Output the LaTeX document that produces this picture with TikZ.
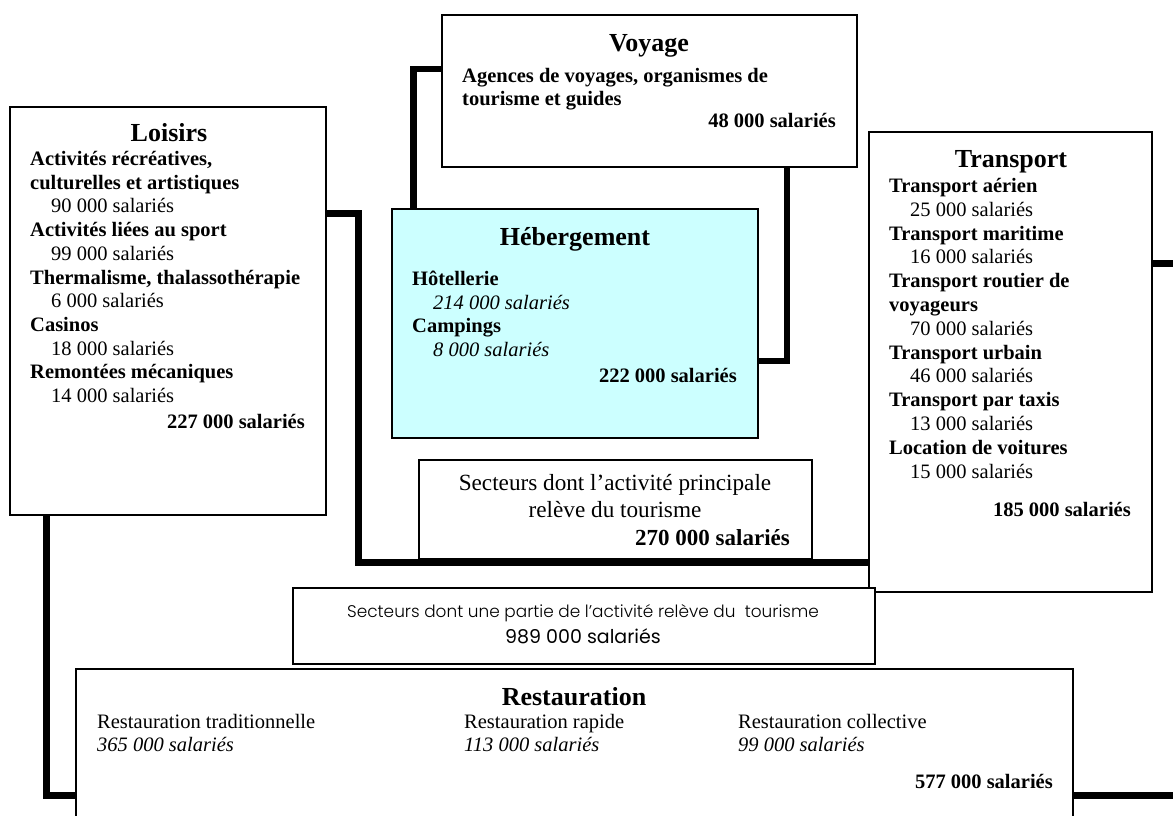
\documentclass[tikz,border=0pt]{standalone}
\usepackage{fontspec}
\setmainfont{Liberation Serif}
\newfontfamily\geofont{Poppins}
\newfontfamily\geolight{Poppins Light}
\definecolor{hebfill}{HTML}{CCFFFF}
\newcommand\indval{\hspace*{21pt}}
\begin{document}
\begin{tikzpicture}[x=1pt,y=-1pt,
  box/.style={draw=black, line width=2pt, fill=white, anchor=north west, inner sep=0pt, outer sep=0pt},
  conn/.style={line width=6.5pt},
  ttl/.style={font=\fontsize{26}{30}\selectfont\bfseries, inner sep=0pt, anchor=base},
  body/.style={font=\fontsize{20.5}{23.7}\selectfont, inner sep=0pt, anchor=base west, align=left},
  tot/.style={font=\fontsize{20.5}{24}\selectfont\bfseries, inner sep=0pt, anchor=base east},
  geo/.style={font=\geofont\fontsize{16.9}{26}\selectfont, inner sep=0pt, anchor=base, align=center}
]
\useasboundingbox (0,0) rectangle (1173,816);
\clip (0,0) rectangle (1173,816);
% boxes
\node[box, minimum width=415.5pt, minimum height=152pt] (voy) at (441.5,15) {};
\node[box, minimum width=316pt, minimum height=408pt] (lois) at (10,107) {};
\node[box, fill=hebfill, minimum width=366pt, minimum height=229pt] (heb) at (392,209) {};
\node[box, minimum width=283pt, minimum height=460pt] (trans) at (869,132) {};
\node[box, minimum width=393pt, minimum height=99pt] (secp) at (419,460) {};
\node[box, minimum width=582pt, minimum height=76pt] (seca) at (293,588) {};
\node[box, minimum width=997pt, minimum height=200pt] (rest) at (76,669) {};
% connector helper points
\coordinate (vL) at (413.5,69);
\coordinate (vR) at (787,361);
\coordinate (lA) at (358.5,213.5);
\coordinate (lB) at (358.5,562.5);
\coordinate (tR) at (1173,263.5);
\coordinate (lC) at (46.5,795.5);
\coordinate (rR) at (1173,795.5);
% connectors
\draw[conn] (voy.west |- vL) -- (vL) -- (vL |- heb.north);
\draw[conn] (vR |- voy.south) -- (vR) -- (vR -| heb.east);
\draw[conn] (lA -| lois.east) -- (lA) -- (lB) -- (lB -| trans.west);
\draw[conn] (tR -| trans.east) -- (tR);
\draw[conn] (lC |- lois.south) -- (lC) -- (lC -| rest.west);
\draw[conn] (rR -| rest.east) -- (rR);
% Voyage
\node[ttl] (voyT) at (649,51.5) {Voyage};
\node[body, font=\fontsize{20.5}{22.5}\selectfont\bfseries] (voyB) at (462,105) {Agences de voyages, organismes de\\tourisme et guides};
\node[tot] (voyS) at (836,127.5) {48 000 salariés};
% Loisirs
\node[ttl] (loiT) at (169,141.5) {Loisirs};
\node[body] (loiB) at (30,402.5) {\textbf{Activités récréatives,}\\\textbf{culturelles et artistiques}\\\indval 90 000 salariés\\\textbf{Activités liées au sport}\\\indval 99 000 salariés\\\textbf{Thermalisme, thalassothérapie}\\\indval 6 000 salariés\\\textbf{Casinos}\\\indval 18 000 salariés\\\textbf{Remontées mécaniques}\\\indval 14 000 salariés};
\node[tot] (loiS) at (305,428.5) {227 000 salariés};
% Hebergement
\node[ttl] (hebT) at (575,245.5) {Hébergement};
\node[body] (hebB) at (412,356.6) {\textbf{Hôtellerie}\\\indval\textit{214 000 salariés}\\\textbf{Campings}\\\indval\textit{8 000 salariés}};
\node[tot] (hebS) at (737,382) {222 000 salariés};
% Transport
\node[ttl] (traT) at (1011,167.5) {Transport};
\node[body, font=\fontsize{20.5}{23.8}\selectfont] (traB) at (889,478) {\textbf{Transport aérien}\\\indval 25 000 salariés\\\textbf{Transport maritime}\\\indval 16 000 salariés\\\textbf{Transport routier de}\\\textbf{voyageurs}\\\indval 70 000 salariés\\\textbf{Transport urbain}\\\indval 46 000 salariés\\\textbf{Transport par taxis}\\\indval 13 000 salariés\\\textbf{Location de voitures}\\\indval 15 000 salariés};
\node[tot] (traS) at (1131,516.5) {185 000 salariés};
% Secteurs principal
\node[body, align=center, anchor=base, font=\fontsize{23.2}{27}\selectfont] (secpB) at (615,517.5) {Secteurs dont l’activité principale\\relève du tourisme};
\node[tot, font=\fontsize{23}{27}\selectfont\bfseries] (secpS) at (790,545.5) {270 000 salariés};
% Secteurs partie
\node[geo] (secaB) at (583,643) {{\geolight Secteurs dont une partie de l’activité relève du\ \ tourisme}\\{\fontsize{19}{26}\selectfont 989 000 salariés}};
% Restauration
\node[ttl] (resT) at (574,705.5) {Restauration};
\node[body, font=\fontsize{20.5}{23}\selectfont] (resB1) at (97,751.5) {Restauration traditionnelle\\\textit{365 000 salariés}};
\node[body, font=\fontsize{20.5}{23}\selectfont] (resB2) at (464,751.5) {Restauration rapide\\\textit{113 000 salariés}};
\node[body, font=\fontsize{20.5}{23}\selectfont] (resB3) at (738,751.5) {Restauration collective\\\textit{99 000 salariés}};
\node[tot] (resS) at (1053,788.5) {577 000 salariés};
\end{tikzpicture}
\end{document}
